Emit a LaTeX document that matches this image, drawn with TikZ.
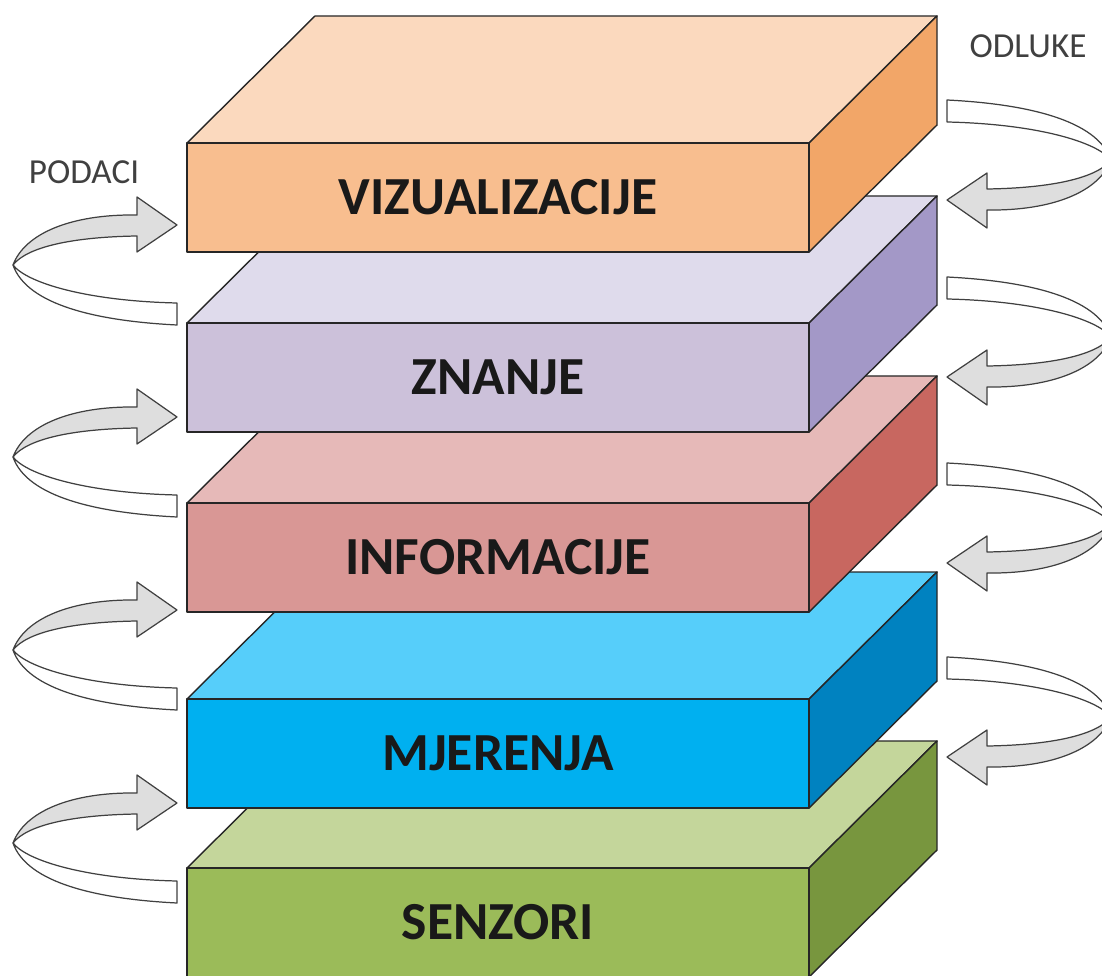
\documentclass[tikz,border=0pt]{standalone}
\usepackage{fontspec}
\setmainfont{Carlito}
\usepackage{tikz}
\definecolor{frontorg}{RGB}{248,190,143}
\definecolor{toporg}{RGB}{251,217,190}
\definecolor{sideorg}{RGB}{242,166,104}
\definecolor{frontprp}{RGB}{204,193,218}
\definecolor{topprp}{RGB}{223,219,236}
\definecolor{sideprp}{RGB}{163,152,199}
\definecolor{frontred}{RGB}{217,151,149}
\definecolor{topred}{RGB}{230,185,184}
\definecolor{sidered}{RGB}{200,103,96}
\definecolor{frontblu}{RGB}{0,176,240}
\definecolor{topblu}{RGB}{86,206,250}
\definecolor{sideblu}{RGB}{0,130,192}
\definecolor{frontgrn}{RGB}{155,187,89}
\definecolor{topgrn}{RGB}{196,214,155}
\definecolor{sidegrn}{RGB}{120,150,62}
\definecolor{bandgray}{RGB}{222,222,222}

\tikzset{
  curlarrow/.pic={
    \filldraw[band, fill=white] (-164,40) .. controls (-150,58) and (-90,76) .. (0,78)
        -- (0,100) .. controls (-80,96) and (-150,80) .. (-164,40) -- cycle;
    \filldraw[band, fill=bandgray] (-164,40) .. controls (-152,8) and (-105,-11) .. (-40,-10)
        -- (-40,-28) -- (0,0) -- (-40,27) -- (-40,11)
        .. controls (-105,12) and (-150,22) .. (-164,40) -- cycle;
  }
}

\begin{document}
\begin{tikzpicture}[x=0.02cm, y=-0.02cm,
    face/.style={draw=black!85, line width=0.8pt, line join=round},
    band/.style={draw=black!75, line width=0.7pt, line join=round},
    layer/.style={font=\fontsize{30.5}{36}\selectfont\bfseries, text=black!90},
    flow/.style={font=\fontsize{20}{24}\selectfont, text=black!75}
]
\useasboundingbox (0,0) rectangle (1102,976);
\clip (0,0) rectangle (1102,976);

% layers, bottom one first
\foreach \y/\c/\t/\n in {868/grn/SENZORI/senz, 699/blu/MJERENJA/mjer,
    503/red/INFORMACIJE/info, 323/prp/ZNANJE/znan, 143/org/VIZUALIZACIJE/viz}{
  \filldraw[face, fill=top\c] (187,\y) -- ++(128,-127) -- ++(622,0) -- ++(-128,127) -- cycle;
  \filldraw[face, fill=side\c] (809,\y) -- ++(128,-127) -- ++(0,109) -- ++(-128,127) -- cycle;
  \filldraw[face, fill=front\c] (187,\y) rectangle ++(622,109);
  \node[layer] (\n) at (498,\y+54.5) {\t};
}

% data going up, decisions coming down
\foreach \ty in {225,417,610,803}
  \pic at (177,\ty) {curlarrow};
\foreach \ty in {200,377,563,757}
  \pic[rotate=180] at (947,\ty) {curlarrow};

\node[flow] (podaci) at (84,172) {PODACI};
\node[flow] (odluke) at (1028,46) {ODLUKE};
\end{tikzpicture}
\end{document}
